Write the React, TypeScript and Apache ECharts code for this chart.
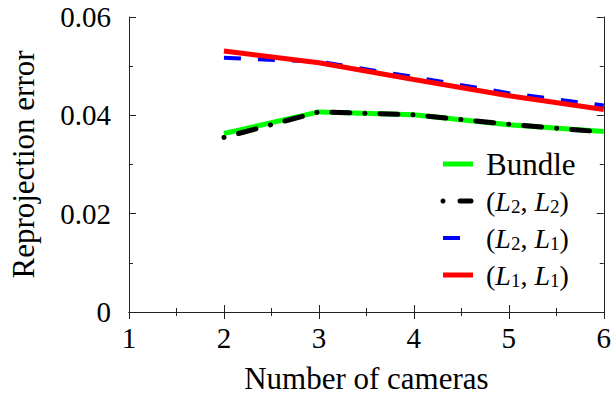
import React, { useEffect, useRef } from "react";
import * as echarts from "echarts";

const cameras = [2, 3, 4, 5, 6];
const bundle = [0.0363, 0.0407, 0.0401, 0.0381, 0.0367];
const l2l2 = [0.0355, 0.0407, 0.0401, 0.0382, 0.0366];
const l2l1 = [0.0517, 0.0509, 0.0478, 0.0445, 0.042];
const l1l1 = [0.0531, 0.0507, 0.0473, 0.044, 0.0412];
const xTicks = [1, 2, 3, 4, 5, 6];
const yTicks = [0, 0.02, 0.04, 0.06];

const FONT = "Liberation Serif";
const FS = 29;
const NFS = 31;
const AXC = "#222";

const pairs = (ys: number[]) => cameras.map((c, i) => [c, ys[i]]);

const mathRich = {
  n: { fontFamily: FONT, fontSize: 28, fill: "#000", lineHeight: 30 },
  i: { fontFamily: FONT, fontSize: 28, fontStyle: "italic", fill: "#000", lineHeight: 30 },
  s: { fontFamily: FONT, fontSize: 19, fill: "#000", lineHeight: 18, padding: [12, 0, 0, 0], verticalAlign: "bottom" },
};

const pairText = (a: string, b: string) => `{n|(}{i|L}{s|${a}}{n|, }{i|L}{s|${b}}{n|)}`;

export default function App() {
  const ref = useRef<HTMLDivElement>(null);
  useEffect(() => {
    if (!ref.current) return;
    const chart = echarts.init(ref.current, undefined, { renderer: "svg" });
    const axisCommon = {
      axisLine: { show: true, lineStyle: { color: AXC, width: 1 } },
      axisTick: { show: true, inside: true, length: 7, lineStyle: { color: AXC } },
      minorTick: { show: true, splitNumber: 2, length: 4, lineStyle: { color: AXC } },
      splitLine: { show: false },
    };
    const legendY = [164, 201, 238, 275];
    const textX = 486;
    chart.setOption({
      animation: false,
      backgroundColor: "#fff",
      textStyle: { fontFamily: FONT },
      grid: { left: 126, right: 10, top: 17, bottom: 87 },
      xAxis: [
        {
          type: "value",
          min: xTicks[0],
          max: xTicks[xTicks.length - 1],
          interval: 1,
          ...axisCommon,
          axisLabel: { color: "#000", fontFamily: FONT, fontSize: FS, margin: 11 },
          name: "Number of cameras",
          nameLocation: "middle",
          nameGap: 51,
          nameTextStyle: { color: "#000", fontFamily: FONT, fontSize: NFS },
        },
        {
          type: "value",
          position: "top",
          min: xTicks[0],
          max: xTicks[xTicks.length - 1],
          interval: 1,
          ...axisCommon,
          axisLabel: { show: false },
        },
      ],
      yAxis: [
        {
          type: "value",
          min: yTicks[0],
          max: yTicks[yTicks.length - 1],
          interval: 0.02,
          ...axisCommon,
          axisLabel: {
            color: "#000",
            fontFamily: FONT,
            fontSize: FS,
            margin: 18,
            formatter: (v: number) => (v === 0 ? "0" : v.toFixed(2)),
          },
          name: "Reprojection error",
          nameLocation: "middle",
          nameGap: 90,
          nameTextStyle: { color: "#000", fontFamily: FONT, fontSize: NFS },
        },
        {
          type: "value",
          position: "right",
          min: yTicks[0],
          max: yTicks[yTicks.length - 1],
          interval: 0.02,
          ...axisCommon,
          axisLabel: { show: false },
        },
      ],
      series: [
        {
          name: "Bundle",
          type: "line",
          data: pairs(bundle),
          showSymbol: false,
          lineStyle: { color: "#00ff00", width: 5 },
        },
        {
          name: "(L2, L2)",
          type: "line",
          data: pairs(l2l2),
          showSymbol: false,
          lineStyle: { color: "#000", width: 5, type: [0.1, 15, 18, 15], cap: "round" },
        },
        {
          name: "(L2, L1)",
          type: "line",
          data: pairs(l2l1),
          showSymbol: false,
          lineStyle: { color: "#0000ff", width: 4, type: [17, 17] },
        },
        {
          name: "(L1, L1)",
          type: "line",
          data: pairs(l1l1),
          showSymbol: false,
          lineStyle: { color: "#ff0000", width: 5 },
        },
      ],
      graphic: [
        { type: "line", shape: { x1: 443, y1: legendY[0], x2: 473, y2: legendY[0] }, style: { stroke: "#00ff00", lineWidth: 5 } },
        { type: "text", x: textX, y: legendY[0], style: { text: "Bundle", fontFamily: FONT, fontSize: 31, fill: "#000", verticalAlign: "middle" } },
        { type: "circle", shape: { cx: 443, cy: legendY[1], r: 2.5 }, style: { fill: "#000" } },
        { type: "line", shape: { x1: 460, y1: legendY[1], x2: 471, y2: legendY[1] }, style: { stroke: "#000", lineWidth: 5, lineCap: "round" } },
        { type: "text", x: textX, y: legendY[1], style: { text: pairText("2", "2"), rich: mathRich, fontFamily: FONT, fontSize: 28, verticalAlign: "middle" } },
        { type: "line", shape: { x1: 443, y1: legendY[2], x2: 460, y2: legendY[2] }, style: { stroke: "#0000ff", lineWidth: 4 } },
        { type: "text", x: textX, y: legendY[2], style: { text: pairText("2", "1"), rich: mathRich, fontFamily: FONT, fontSize: 28, verticalAlign: "middle" } },
        { type: "line", shape: { x1: 443, y1: legendY[3], x2: 473, y2: legendY[3] }, style: { stroke: "#ff0000", lineWidth: 5 } },
        { type: "text", x: textX, y: legendY[3], style: { text: pairText("1", "1"), rich: mathRich, fontFamily: FONT, fontSize: 28, verticalAlign: "middle" } },
      ],
    });
    return () => chart.dispose();
  }, []);
  return (
    <div
      ref={ref}
      style={{ position: "absolute", left: 0, top: 0, width: 614, height: 399 }}
    />
  );
}
